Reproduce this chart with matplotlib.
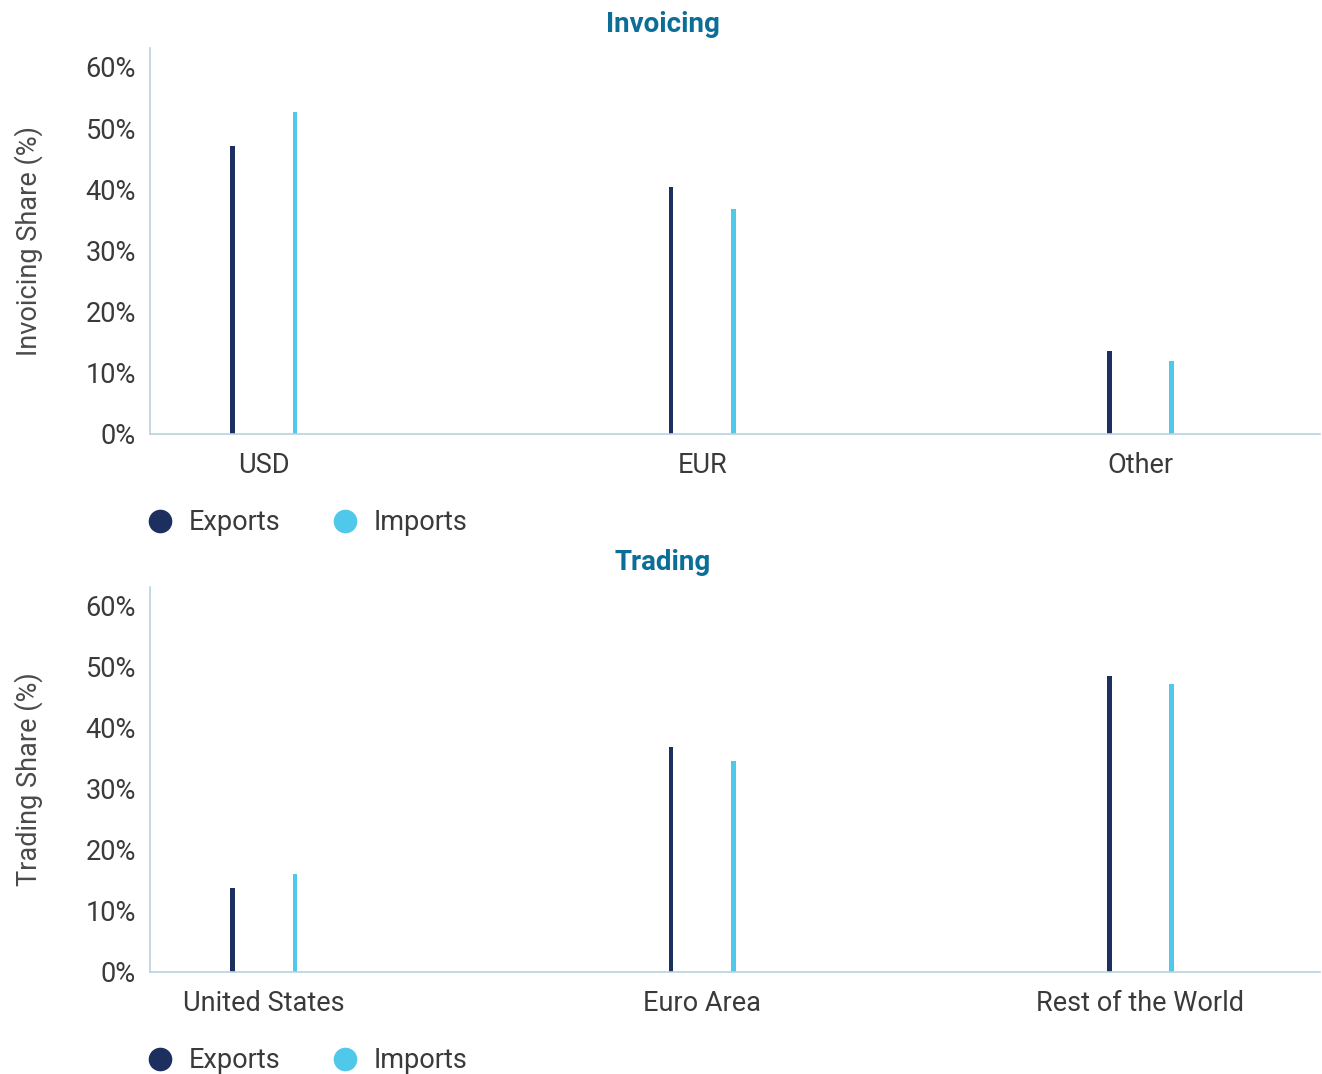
import numpy as np
import matplotlib.pyplot as plt
from matplotlib.lines import Line2D
from matplotlib.ticker import PercentFormatter

# Data
inv_categories = ["USD", "EUR", "Other"]
inv_exports = [47.1, 40.4, 13.6]
inv_imports = [52.6, 36.8, 11.9]

trd_categories = ["United States", "Euro Area", "Rest of the World"]
trd_exports = [13.8, 36.9, 48.5]
trd_imports = [16.1, 34.6, 47.2]

yticks = [0, 10, 20, 30, 40, 50, 60]

# Styles
EXP_COLOR = "#1d2f5f"
IMP_COLOR = "#50c8e9"
TITLE_COLOR = "#0b6e98"
SPINE_COLOR = "#b8d3e2"
TEXT_COLOR = "#3a3a3a"

plt.rcParams["font.family"] = ["Roboto", "DejaVu Sans"]

fig = plt.figure(figsize=(13.22, 10.74), dpi=100)
W, H = 1322, 1074


def panel(top, bottom, title, ylabel, cats, exp, imp):
    ax = fig.add_axes([150 / W, 1 - bottom / H, 1170 / W, (bottom - top) / H])
    x = np.arange(len(cats))
    ax.bar(x - 0.071, exp, width=0.011, color=EXP_COLOR)
    ax.bar(x + 0.071, imp, width=0.011, color=IMP_COLOR)
    ax.set_xlim(-0.26, 2.41)
    ax.set_ylim(0, 63.1)
    ax.set_yticks(yticks)
    ax.yaxis.set_major_formatter(PercentFormatter(decimals=0))
    ax.set_xticks(x)
    ax.set_xticklabels(cats)
    ax.tick_params(length=0, labelsize=19.5, colors=TEXT_COLOR, pad=13)
    ax.tick_params(axis="y", pad=10)
    for s in ["top", "right"]:
        ax.spines[s].set_visible(False)
    for s in ["left", "bottom"]:
        ax.spines[s].set_color(SPINE_COLOR)
        ax.spines[s].set_linewidth(1.2)
    ax.set_ylabel(ylabel, fontsize=19.5, color="#4a4a4a", labelpad=31)
    fig.text(663 / W, 1 - (top - 24) / H, title, ha="center", va="center",
             fontsize=20, fontweight="bold", color=TITLE_COLOR)
    handles = [
        Line2D([], [], marker="o", linestyle="", markersize=16, color=EXP_COLOR, label="Exports"),
        Line2D([], [], marker="o", linestyle="", markersize=16, color=IMP_COLOR, label="Imports"),
    ]
    ax.legend(handles=handles, loc="center left", ncol=2, frameon=False,
              bbox_to_anchor=(-0.024, -(89 / (bottom - top))), fontsize=19.5,
              labelcolor=TEXT_COLOR, handletextpad=0.05, columnspacing=1.4,
              borderaxespad=0)
    return ax


panel(48, 434, "Invoicing", "Invoicing Share (%)", inv_categories, inv_exports, inv_imports)
panel(587, 972, "Trading", "Trading Share (%)", trd_categories, trd_exports, trd_imports)

fig.savefig("out.png", dpi=100)
